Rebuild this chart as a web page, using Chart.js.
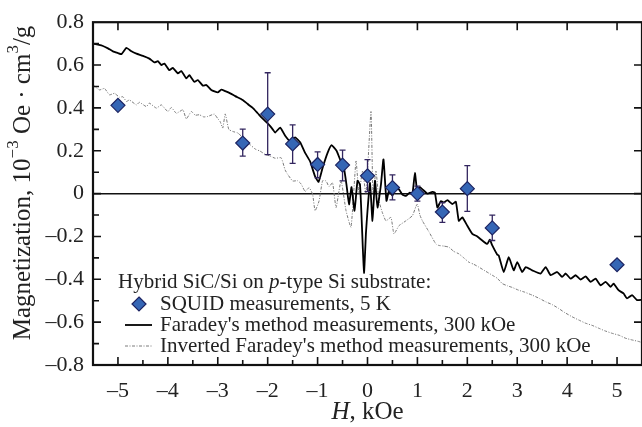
<!DOCTYPE html>
<html lang="en">
<head>
    <meta charset="UTF-8">
    <title>Magnetization vs field</title>
    <script src="https://cdn.jsdelivr.net/npm/chart.js"></script>
    <style>
        body { margin: 0; background: #fff; }
        #wrap { width: 642px; height: 427px; }
    </style>
</head>
<body>
    <div id="wrap"><canvas id="magChart"></canvas></div>

    <script>
        // SQUID points, 5 K (with error bars)
        const squidH = [-5, -2.5, -2, -1.5, -1, -0.5, 0, 0.5, 1, 1.5, 2, 2.5, 5];
        const squidM = [0.412, 0.236, 0.371, 0.232, 0.136, 0.133, 0.083, 0.028, 0.0, -0.086, 0.023, -0.160, -0.332];
        const squidHigh = [0.412, 0.301, 0.564, 0.321, 0.195, 0.203, 0.159, 0.087, 0.035, -0.042, 0.131, -0.100, -0.315];
        const squidLow = [0.412, 0.175, 0.182, 0.141, 0.074, 0.059, 0.009, -0.029, -0.035, -0.134, -0.083, -0.219, -0.349];

        // Faradey's method, 300 K
        const faradayH = [-5.5, -5.4, -5.3, -5.2, -5.1, -5.0, -4.93, -4.83, -4.73, -4.63, -4.5, -4.37, -4.27, -4.2, -4.13,
            -4.07, -3.97, -3.9, -3.8, -3.73, -3.63, -3.57, -3.47, -3.4, -3.3, -3.23, -3.13, -3.0, -2.93, -2.85, -2.75, -2.65,
            -2.5, -2.4, -2.3, -2.2, -2.1, -2.0, -1.95, -1.9, -1.85, -1.75, -1.65, -1.55, -1.45, -1.35, -1.25, -1.15, -1.05,
            -0.98, -0.9, -0.8, -0.72, -0.62, -0.55, -0.48, -0.42, -0.37, -0.32, -0.26, -0.2, -0.15, -0.11, -0.07, -0.03,
            0.0, 0.05, 0.1, 0.15, 0.2, 0.27, 0.32, 0.38, 0.43, 0.5, 0.56, 0.63, 0.7, 0.77, 0.85, 0.9, 0.95, 1.0, 1.05, 1.1,
            1.2, 1.3, 1.35, 1.4, 1.47, 1.53, 1.6, 1.7, 1.77, 1.83, 1.9, 2.0, 2.1, 2.2, 2.3, 2.4, 2.45, 2.5, 2.6, 2.63, 2.73,
            2.83, 2.93, 3.0, 3.1, 3.17, 3.3, 3.47, 3.57, 3.67, 3.8, 3.9, 3.97, 4.07, 4.17, 4.27, 4.37, 4.47, 4.57, 4.67,
            4.77, 4.87, 4.93, 5.03, 5.13, 5.2, 5.3, 5.4, 5.5];
        const faradayM = [0.700, 0.695, 0.689, 0.678, 0.664, 0.656, 0.651, 0.680, 0.664, 0.653, 0.643, 0.630, 0.612, 0.618,
            0.600, 0.607, 0.576, 0.587, 0.561, 0.572, 0.538, 0.553, 0.522, 0.530, 0.504, 0.507, 0.484, 0.472, 0.485, 0.478,
            0.468, 0.455, 0.437, 0.418, 0.400, 0.375, 0.350, 0.328, 0.315, 0.300, 0.285, 0.308, 0.270, 0.245, 0.262, 0.240,
            0.190, 0.150, 0.080, 0.055, 0.120, 0.190, 0.226, 0.200, 0.160, 0.130, 0.040, -0.050, 0.030, -0.080, 0.060,
            0.040, -0.160, -0.370, -0.180, -0.080, 0.050, -0.127, 0.060, -0.065, 0.043, 0.160, -0.034, 0.012, -0.010,
            0.030, 0.020, -0.005, -0.011, 0.005, -0.003, 0.097, 0.000, 0.030, 0.020, 0.000, 0.008, 0.005, -0.065, -0.035,
            -0.042, -0.030, -0.049, -0.038, -0.127, -0.111, -0.150, -0.188, -0.200, -0.219, -0.235, -0.215, -0.242,
            -0.285, -0.289, -0.366, -0.297, -0.358, -0.320, -0.366, -0.343, -0.358, -0.373, -0.343, -0.381, -0.366,
            -0.389, -0.373, -0.397, -0.381, -0.401, -0.386, -0.412, -0.397, -0.428, -0.412, -0.435, -0.420, -0.451,
            -0.466, -0.489, -0.474, -0.497, -0.495];

        // Inverted Faradey's method, 300 K
        const invertedH = [-5.5, -5.37, -5.27, -5.17, -5.07, -4.97, -4.9, -4.83, -4.77, -4.63, -4.57, -4.43, -4.37, -4.23,
            -4.13, -4.0, -3.93, -3.83, -3.7, -3.63, -3.53, -3.45, -3.37, -3.28, -3.2, -3.07, -3.0, -2.95, -2.9, -2.85, -2.78,
            -2.7, -2.6, -2.5, -2.43, -2.35, -2.25, -2.15, -2.05, -1.95, -1.85, -1.73, -1.65, -1.6, -1.5, -1.4, -1.33, -1.25,
            -1.17, -1.1, -1.05, -0.97, -0.9, -0.83, -0.77, -0.7, -0.63, -0.53, -0.43, -0.33, -0.23, -0.17, -0.1, -0.03,
            0.07, 0.11, 0.17, 0.23, 0.3, 0.37, 0.47, 0.53, 0.63, 0.77, 0.9, 0.97, 1.0, 1.05, 1.1, 1.23, 1.37, 1.43, 1.53,
            1.63, 1.73, 1.83, 1.93, 2.03, 2.13, 2.23, 2.35, 2.5, 2.6, 2.7, 2.8, 2.9, 3.03, 3.15, 3.3, 3.45, 3.57, 3.7,
            3.83, 3.95, 4.1, 4.25, 4.37, 4.5, 4.63, 4.75, 4.9, 5.05, 5.17, 5.3, 5.43, 5.5];
        const invertedM = [0.507, 0.484, 0.491, 0.461, 0.468, 0.450, 0.452, 0.430, 0.437, 0.414, 0.426, 0.406, 0.422, 0.399,
            0.414, 0.383, 0.402, 0.375, 0.391, 0.349, 0.383, 0.366, 0.368, 0.358, 0.360, 0.371, 0.350, 0.335, 0.306,
            0.372, 0.300, 0.290, 0.283, 0.262, 0.244, 0.228, 0.208, 0.198, 0.183, 0.175, 0.165, 0.167, 0.110, 0.090,
            0.059, 0.060, 0.045, 0.010, 0.028, -0.003, -0.080, -0.034, 0.060, 0.059, 0.032, 0.051, -0.065, 0.060,
            -0.080, -0.157, 0.152, 0.000, 0.105, 0.000, 0.383, 0.000, 0.105, -0.034, -0.090, -0.127, -0.111, -0.188,
            -0.150, -0.127, -0.103, -0.060, -0.049, -0.100, -0.127, -0.178, -0.235, -0.242, -0.245, -0.250, -0.270,
            -0.281, -0.300, -0.320, -0.330, -0.343, -0.360, -0.381, -0.395, -0.420, -0.430, -0.438, -0.451, -0.460,
            -0.474, -0.490, -0.505, -0.518, -0.536, -0.555, -0.575, -0.592, -0.605, -0.615, -0.628, -0.640, -0.652,
            -0.662, -0.675, -0.683, -0.690, -0.695];

        const xTickValues = [-5, -4, -3, -2, -1, 0, 1, 2, 3, 4, 5];
        const yTickValues = [-0.8, -0.6, -0.4, -0.2, 0, 0.2, 0.4, 0.6, 0.8];

        const legendTitle = ['Hybrid SiC/Si on ', 'p', '-type Si substrate:'];
        const seriesLabels = ['SQUID measurements, 5 K', "Faradey's method measurements, 300 kOe",
            "Inverted Faradey's method measurements, 300 kOe"];

        const SERIF = '"Liberation Serif", "Times New Roman", serif';
        const dash = v => (v < 0 ? '\u2013' : '') + Math.abs(v);

        const toPoints = (xs, ys) => xs.map((x, i) => ({ x: x, y: ys[i] }));

        // error bars, drawn just before the SQUID markers
        const errorBars = {
            id: 'errorBars',
            afterDatasetDraw(chart, args) {
                if (args.index !== 1) return;
                const ctx = chart.ctx, xs = chart.scales.x, ys = chart.scales.y;
                ctx.save();
                ctx.strokeStyle = '#33265f';
                ctx.lineWidth = 1.3;
                squidH.forEach((h, i) => {
                    if (squidHigh[i] === squidLow[i]) return;
                    const px = xs.getPixelForValue(h);
                    const top = ys.getPixelForValue(squidHigh[i]);
                    const bot = ys.getPixelForValue(squidLow[i]);
                    ctx.beginPath();
                    ctx.moveTo(px, top); ctx.lineTo(px, bot);
                    ctx.moveTo(px - 3, top); ctx.lineTo(px + 3, top);
                    ctx.moveTo(px - 3, bot); ctx.lineTo(px + 3, bot);
                    ctx.stroke();
                });
                ctx.restore();
            }
        };

        // frame, inward ticks, axis titles and the legend box
        const decorations = {
            id: 'decorations',
            afterDraw(chart) {
                const ctx = chart.ctx, a = chart.chartArea;
                const xs = chart.scales.x, ys = chart.scales.y;
                ctx.save();
                ctx.strokeStyle = '#111';
                ctx.lineWidth = 1.6;
                ctx.beginPath();
                for (let v = -5; v <= 5; v += 0.5) {
                    const px = xs.getPixelForValue(v);
                    const major = Number.isInteger(v);
                    ctx.moveTo(px, a.bottom); ctx.lineTo(px, a.bottom - (major ? 8 : 5));
                    if (major) { ctx.moveTo(px, a.top); ctx.lineTo(px, a.top + 8); }
                }
                for (let k = -7; k <= 7; k++) {
                    const v = k / 10;
                    const py = ys.getPixelForValue(v);
                    const major = k % 2 === 0;
                    ctx.moveTo(a.left, py); ctx.lineTo(a.left + (major ? 8 : 6), py);
                    if (major) { ctx.moveTo(a.right, py); ctx.lineTo(a.right - 8, py); }
                }
                ctx.stroke();
                ctx.lineWidth = 2.2;
                ctx.strokeRect(a.left, a.top, a.right - a.left, a.bottom - a.top);

                // x title: H, kOe
                ctx.fillStyle = '#222';
                ctx.textBaseline = 'middle';
                const xc = xs.getPixelForValue(0), yt = 412;
                ctx.font = 'italic 25px ' + SERIF;
                const wH = ctx.measureText('H').width;
                ctx.font = '25px ' + SERIF;
                const wRest = ctx.measureText(', kOe').width;
                let x0 = xc - (wH + wRest) / 2;
                ctx.font = 'italic 25px ' + SERIF;
                ctx.textAlign = 'left';
                ctx.fillText('H', x0, yt);
                ctx.font = '25px ' + SERIF;
                ctx.fillText(', kOe', x0 + wH, yt);

                // y title with superscripts
                const parts = [
                    ['Magnetization, 10', 25, 0], ['\u22123', 17, -9], [' Oe \u00b7 cm', 25, 0], ['3', 17, -9], ['/g', 25, 0]
                ];
                let total = 0;
                parts.forEach(p => { ctx.font = p[1] + 'px ' + SERIF; total += ctx.measureText(p[0]).width; });
                ctx.translate(23, 183);
                ctx.rotate(-Math.PI / 2);
                let cx = -total / 2;
                parts.forEach(p => {
                    ctx.font = p[1] + 'px ' + SERIF;
                    ctx.fillText(p[0], cx, p[2]);
                    cx += ctx.measureText(p[0]).width;
                });
                ctx.setTransform(1, 0, 0, 1, 0, 0);

                // legend
                const fs = 21;
                let lx = 118, ly = 282;
                legendTitle.forEach((t, i) => {
                    ctx.font = (i === 1 ? 'italic ' : '') + fs + 'px ' + SERIF;
                    ctx.fillText(t, lx, ly);
                    lx += ctx.measureText(t).width;
                });
                const rows = [304, 325, 346];
                const ds = chart.data.datasets;
                ctx.font = fs + 'px ' + SERIF;
                rows.forEach((ry, i) => {
                    const d = ds[i];
                    if (i === 0) {
                        ctx.beginPath();
                        ctx.moveTo(139, ry - 7); ctx.lineTo(146, ry); ctx.lineTo(139, ry + 7); ctx.lineTo(132, ry);
                        ctx.closePath();
                        ctx.fillStyle = d.backgroundColor; ctx.fill();
                        ctx.strokeStyle = d.borderColor; ctx.lineWidth = 1.2; ctx.stroke();
                    } else {
                        ctx.beginPath();
                        ctx.setLineDash(d.borderDash || []);
                        ctx.strokeStyle = d.borderColor; ctx.lineWidth = d.borderWidth;
                        ctx.moveTo(125, ry); ctx.lineTo(152, ry);
                        ctx.stroke();
                        ctx.setLineDash([]);
                    }
                    ctx.fillStyle = '#222';
                    ctx.fillText(d.label, 160, ry);
                });
                ctx.restore();
            }
        };

        new Chart(document.getElementById('magChart'), {
            type: 'scatter',
            data: {
                datasets: [
                    {
                        label: seriesLabels[0],
                        data: toPoints(squidH, squidM),
                        pointStyle: 'rectRot',
                        pointRadius: 7,
                        backgroundColor: '#3566b5',
                        borderColor: '#1d2462',
                        borderWidth: 1.2
                    },
                    {
                        label: seriesLabels[1],
                        data: toPoints(faradayH, faradayM),
                        showLine: true,
                        pointRadius: 0,
                        borderColor: '#000',
                        borderWidth: 1.8,
                        tension: 0.15
                    },
                    {
                        label: seriesLabels[2],
                        data: toPoints(invertedH, invertedM),
                        showLine: true,
                        pointRadius: 0,
                        borderColor: '#7a7a7a',
                        borderWidth: 1,
                        borderDash: [3, 1.5, 1, 1.5],
                        tension: 0.15
                    }
                ]
            },
            options: {
                responsive: true,
                maintainAspectRatio: false,
                animation: false,
                layout: { autoPadding: false, padding: { top: 20, right: 0, left: 0, bottom: 0 } },
                plugins: { legend: { display: false }, tooltip: { enabled: false } },
                scales: {
                    x: {
                        type: 'linear', min: -5.5, max: 5.5,
                        afterFit: s => { s.height = 62; s.paddingLeft = 0; s.paddingRight = 0; },
                        afterBuildTicks: s => { s.ticks = xTickValues.map(v => ({ value: v })); },
                        grid: { display: false },
                        border: { display: false },
                        ticks: {
                            padding: 5, color: '#222',
                            font: { family: SERIF, size: 22 },
                            callback: v => dash(v)
                        }
                    },
                    y: {
                        min: -0.8, max: 0.8,
                        afterFit: s => { s.width = 93; },
                        afterBuildTicks: s => { s.ticks = yTickValues.map(v => ({ value: v })); },
                        grid: {
                            drawTicks: false,
                            color: c => c.tick && c.tick.value === 0 ? '#111' : 'rgba(0,0,0,0)',
                            lineWidth: 1.6
                        },
                        border: { display: false },
                        ticks: {
                            padding: 9, color: '#222',
                            font: { family: SERIF, size: 22 },
                            callback: v => v === 0 ? '0' : (v < 0 ? '\u2013' : '') + Math.abs(v).toFixed(1)
                        }
                    }
                }
            },
            plugins: [errorBars, decorations]
        });
    </script>
</body>
</html>
